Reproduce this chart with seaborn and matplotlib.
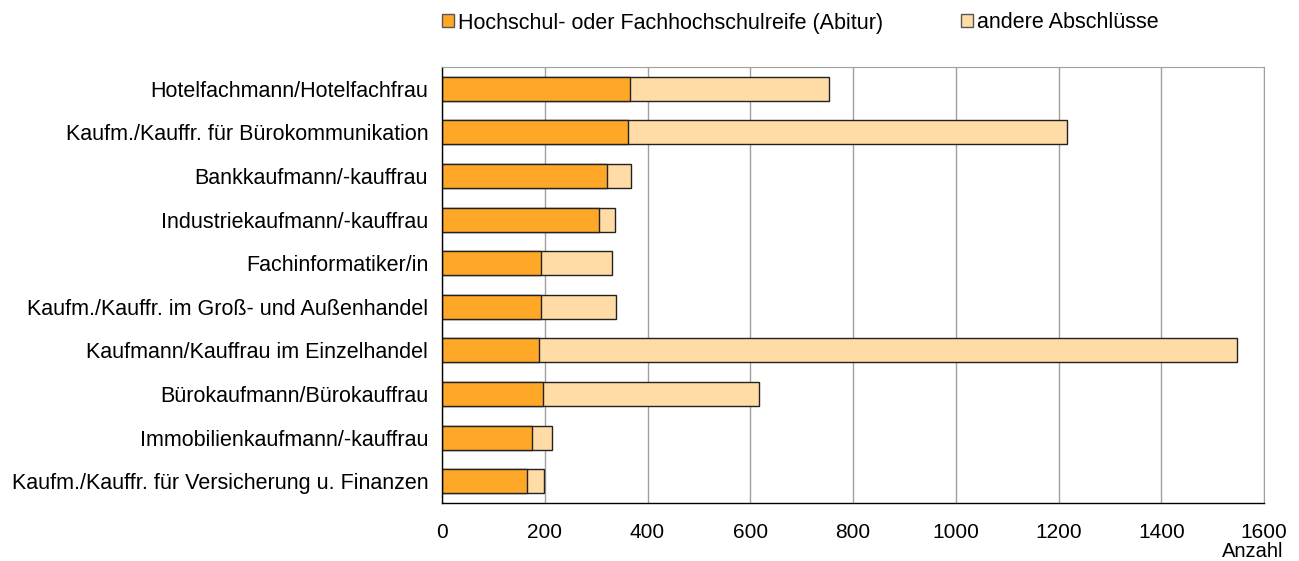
import numpy as np
import pandas as pd
import matplotlib.pyplot as plt
import seaborn as sns
from matplotlib.patches import Patch

berufe = [
    "Hotelfachmann/Hotelfachfrau",
    "Kaufm./Kauffr. für Bürokommunikation",
    "Bankkaufmann/-kauffrau",
    "Industriekaufmann/-kauffrau",
    "Fachinformatiker/in",
    "Kaufm./Kauffr. im Groß- und Außenhandel",
    "Kaufmann/Kauffrau im Einzelhandel",
    "Bürokaufmann/Bürokauffrau",
    "Immobilienkaufmann/-kauffrau",
    "Kaufm./Kauffr. für Versicherung u. Finanzen",
]
abitur = [366, 362, 321, 306, 193, 192, 189, 196, 176, 166]
andere = [387, 854, 46, 31, 138, 147, 1359, 421, 38, 33]

label_abitur = "Hochschul- oder Fachhochschulreife (Abitur)"
label_andere = "andere Abschlüsse"
col_abitur = "#FFA726"
col_andere = "#FFDCA6"

df = pd.DataFrame({"Beruf": berufe, "Abitur": abitur, "Andere": andere})
df["Gesamt"] = df["Abitur"] + df["Andere"]

sns.set_style("white")
plt.rcParams["font.family"] = ["Liberation Sans", "DejaVu Sans"]
plt.rcParams["text.color"] = "#000000"

fig = plt.figure(figsize=(12.99, 5.61), dpi=100)
ax = fig.add_axes([0.3403, 0.1034, 0.6328, 0.7772])

# stacked: total first (light), abitur on top (orange)
sns.barplot(data=df, y="Beruf", x="Gesamt", orient="h", color=col_andere,
            width=0.55, edgecolor="#222222", linewidth=1.0, saturation=1, ax=ax)
sns.barplot(data=df, y="Beruf", x="Abitur", orient="h", color=col_abitur,
            width=0.55, edgecolor="#222222", linewidth=1.0, saturation=1, ax=ax)

ax.set_xlim(0, 1600)
ax.set_ylim(9.5, -0.5)
ax.set_xticks(np.arange(0, 1601, 200))
ax.set_xlabel("")
ax.set_ylabel("")
ax.xaxis.grid(True, color="#A0A0A0", linewidth=1)
ax.yaxis.grid(False)
ax.set_axisbelow(True)

ax.tick_params(axis="y", which="major", length=0, pad=10, labelsize=15.5, labelcolor="#000000")
ax.set_yticks(np.arange(-0.5, 10, 1), minor=True)
ax.tick_params(axis="y", which="minor", length=4.3, direction="out", color="#000000", width=1)
ax.tick_params(axis="x", length=4.3, direction="out", color="#000000", width=1,
               labelsize=15, labelcolor="#000000", pad=10)

for s in ["left", "bottom"]:
    ax.spines[s].set_color("#000000")
    ax.spines[s].set_linewidth(1)
ax.spines["top"].set_color("#A0A0A0")
ax.spines["right"].set_color("#A0A0A0")

fig.text(1283 / 1299, 0.0, "Anzahl", ha="right", va="bottom", fontsize=14.5)

handles = [Patch(facecolor=col_abitur, edgecolor="#555555", label=label_abitur),
           Patch(facecolor=col_andere, edgecolor="#555555", label=label_andere)]
fig.legend(handles=handles, loc="center left", bbox_to_anchor=(442 / 1299, 1 - 23 / 561), ncol=2,
           frameon=False, fontsize=15.5, handlelength=0.55, handleheight=0.55,
           handletextpad=0.2, columnspacing=3.6, borderaxespad=0, borderpad=0)

fig.savefig("out.png", dpi=100)
